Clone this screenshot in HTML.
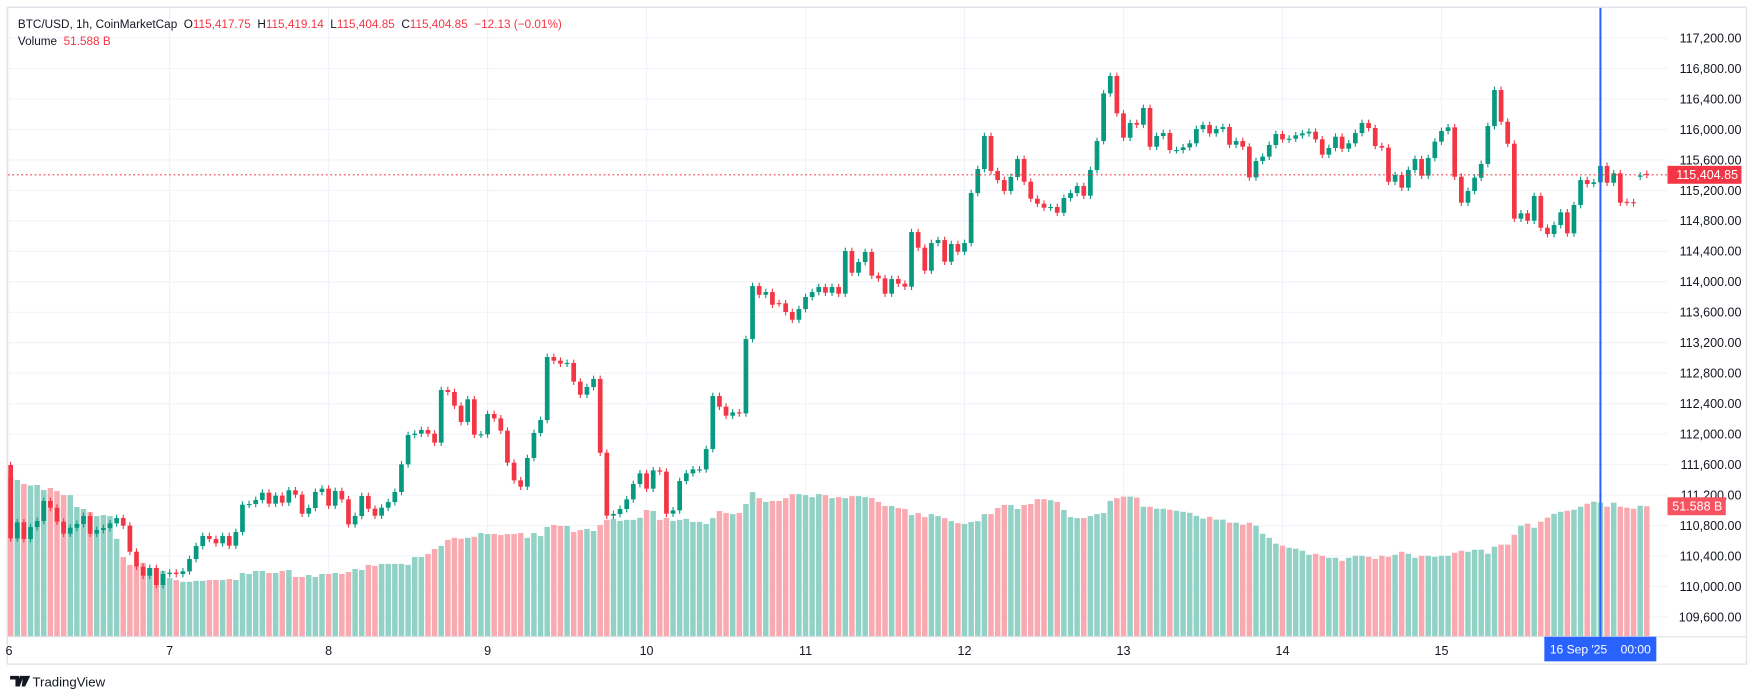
<!DOCTYPE html>
<html><head><meta charset="utf-8">
<style>
html,body{margin:0;padding:0;background:#fff;}
svg{display:block;font-family:"Liberation Sans",sans-serif;}
</style></head>
<body>
<svg id="chart" width="1756" height="700" viewBox="0 0 1568 625" preserveAspectRatio="none" xmlns="http://www.w3.org/2000/svg">
  <rect x="0" y="0" width="1568" height="625" fill="#ffffff"/>
  <rect x="6.5" y="6.5" width="1553" height="586.5" fill="none" stroke="#e0e3eb" stroke-width="1.2"/>
  <g id="grid"></g>
  <g id="volumes"></g>
  <g id="candles"></g>
  <line id="lastLine" x1="7" x2="1489" stroke="#f23645" stroke-width="1" stroke-dasharray="1.5,2.5"/>
  <line x1="7" x2="1559" y1="568.5" y2="568.5" stroke="#e0e3eb" stroke-width="1"/>
  <g id="yaxis"></g>
  <g id="xaxis"></g>
  <line id="crossV" y1="7" y2="568.5" stroke="#2962ff" stroke-width="1.8"/>
  <g id="priceTag"></g>
  <g id="volTag"></g>
  <g>
    <rect x="1379" y="568.5" width="100" height="22" fill="#2962ff"/>
    <text x="1429" y="583.5" font-size="10.8" fill="#ffffff" text-anchor="middle" xml:space="preserve">16 Sep '25    00:00</text>
  </g>
  <g font-size="10.5">
    <text x="16" y="25" fill="#131722" xml:space="preserve">BTC/USD, 1h, CoinMarketCap  O<tspan fill="#f23645">115,417.75</tspan>  H<tspan fill="#f23645">115,419.14</tspan>  L<tspan fill="#f23645">115,404.85</tspan>  C<tspan fill="#f23645">115,404.85</tspan>  <tspan fill="#f23645">−12.13 (−0.01%)</tspan></text>
    <text x="16" y="40" fill="#131722" xml:space="preserve">Volume  <tspan fill="#f23645">51.588 B</tspan></text>
  </g>
  <g>
    <path d="M9 603.5h8v9.5h-3.2v-6.3H9z M17.8 603.5h3.4l-3.6 9.5h-3.2z M20.6 603.5h6.4l-4.6 9.5h-3z" fill="#131722"/>
    <text x="29" y="613" font-size="11.8" fill="#131722">TradingView</text>
  </g>
</svg>
<script>
const closes = [
110631,110842,110623,110780,110859,111122,111034,110850,110693,110771,
110820,110925,110693,110741,110767,110828,110898,110798,110456,110259,
110141,110242,110019,110163,110181,110163,110198,110360,110531,110662,
110623,110566,110662,110535,110715,111073,111082,111135,111231,111087,
111192,111100,111262,111205,110955,111030,111240,111284,111060,111253,
111143,110815,110925,111187,111021,110929,111034,111108,111240,111603,
111988,112006,112054,112006,111888,112579,112553,112373,112159,112457,
111993,111997,112264,112207,112045,111625,111393,111310,111686,112015,
112185,113012,112964,112925,112934,112689,112518,112618,112724,111756,
110929,110951,111017,111143,111345,111485,111284,111524,111507,110955,
110999,111384,111485,111537,
111537,111804,112500,112360,112242,112285,112272,113248,113944,113830,
113865,113699,113717,113603,113502,113642,113800,113865,113931,113857,
113931,113844,114404,114119,114259,114391,114080,114045,113844,114036,
113975,113936,114653,114448,114146,114509,114548,114264,114496,114395,
114509,115165,115480,115914,115454,115336,115192,115376,115612,115314,
115091,115025,114973,114982,114907,115100,115165,115257,115130,115468,
115848,
116474,116702,116212,115892,116085,116063,116282,115774,115914,115953,
115730,115730,115765,115818,116006,116059,115949,116006,116032,115800,
115848,115774,115371,115586,115643,115796,115940,115870,115879,115923,
115949,115971,115870,115669,115757,115905,115748,115818,115953,116085,
116019,115783,115761,115314,115402,115236,115468,115612,115393,115625,
115840,115980,116028,115380,115039,115192,115367,115547,116045,116518,
116102,115813,114829,114899,114802,115126,114710,114627,114745,114912,
114636,115008,115336,115284,115306,115520,115301,115424,115039,115043,
115030,115395,115404.85
];
const openOverrides = {0:111594, 116:113720, 244:115050, 245:115045, 246:115380, 247:115417.75};
const volumes = [
63,62,60.4,59.8,60,58,58.8,57.6,56,56,
51.3,50.5,49.3,47.7,48.1,47.7,38.7,31.5,28.4,27.6,
29.2,27.2,27.2,26,23.2,22.4,21.7,21.7,22.1,22.1,
22.4,22.4,22.4,22.8,22.4,25.2,24.8,26,26,25.2,
25.2,26,26.4,23.6,23.6,24.4,23.6,24.8,24.8,25.2,
24.8,25.6,26.8,26.4,28.4,28,28.8,28.8,28.8,28.8,
28.4,31.5,31.5,32.7,34.7,35.9,38.3,39.1,38.7,39.1,
39.5,41,40.6,40.6,40.2,40.6,40.6,41,39.1,41,
39.8,43.4,44.2,43.8,43.8,41.4,42.2,42.6,41.8,44.2,
46.2,46.6,45.8,46.2,46.2,47,50.1,49.7,46.2,47,
45.8,46.2,46.6,45.4,
45.4,44.6,46.9,49.7,48.9,48.5,48.9,52.5,57.2,54.8,
53.3,53.7,53.7,54.8,56.4,56.4,56,55.2,56.4,56,
54.8,55.2,54.8,55.6,55.6,55.2,54.8,53.3,51.7,51.7,
50.9,50.5,48.1,48.9,47.3,48.5,47.7,46.9,45.7,44.9,
44.6,45.4,45.7,48.5,48.5,50.9,52.1,52.1,50.5,52.1,
52.5,54.4,54.4,54,53.3,50.1,47.3,46.9,46.9,47.7,
48.5,48.9,53.7,54.8,
55.4,55.4,55,51.4,51.4,50.6,50.6,50.2,49.8,49.4,
49,47.8,46.7,47.4,46.3,46.3,45.1,45.1,44.3,45.1,
43.9,40.7,39.1,36.8,36,35.2,34.8,34,32.4,32.8,
32,31.2,31.2,30,31.2,32,32,31.6,30.8,32,
31.6,32.4,33.6,32.8,31.2,32,32,31.6,32,32,
33.2,34,33.6,34.4,34.4,32.8,35.6,36.4,36.4,40.3,
43.9,44.7,43.1,45.5,47.1,48.6,49.4,49.8,50.2,51.4,
52.6,53.4,53,51.4,53,51.4,51,50.6,51.8,51.588
];
const priceTicks = [117200,116800,116400,116000,115600,115200,114800,114400,114000,113600,113200,112800,112400,112000,111600,111200,110800,110400,110000,109600];
const dayLabels = ["6","7","8","9","10","11","12","13","14","15"];
const lastPrice = 115404.85;
const lastVolumeLabel = "51.588 B";
const crossIndex = 240;

const NS = "http://www.w3.org/2000/svg";
const X0 = 9.5, STEP = 5.915;
function xScale(i){ return X0 + i*STEP; }
function yScale(p){ return 34 + (117200 - p)*0.068; }
const VBASE = 568.5;
function vScale(v){ return v*2.258; }
function mk(tag, attrs, parent){
  const e = document.createElementNS(NS, tag);
  for (const k in attrs) e.setAttribute(k, attrs[k]);
  parent.appendChild(e);
  return e;
}
const grid = document.getElementById('grid');
const yaxis = document.getElementById('yaxis');
const xaxis = document.getElementById('xaxis');
priceTicks.forEach(p => {
  const y = yScale(p);
  const gl = mk('line', {x1:7, x2:1489, y1:y, y2:y, stroke:'#f0f3fa', 'stroke-width':1}, grid);
  
  
  const t = mk('text', {x:1555, y:y+3.9, 'font-size':11.2, fill:'#131722', 'text-anchor':'end'}, yaxis);
  t.textContent = p.toLocaleString('en-US', {minimumFractionDigits:2, maximumFractionDigits:2});
  
  
});
dayLabels.forEach((d, k) => {
  const x = k === 0 ? 8 : xScale(k*24);
  const gl = mk('line', {x1:x, x2:x, y1:7, y2:568.5, stroke:'#f0f3fa', 'stroke-width':1}, grid);
  
  
  const t = mk('text', {x:x, y:585, 'font-size':11.2, fill:'#131722', 'text-anchor':'middle'}, xaxis);
  t.textContent = d;
  
  
});
const candles = document.getElementById('candles');
const vols = document.getElementById('volumes');
closes.forEach((c, i) => {
  const o = (i in openOverrides) ? openOverrides[i] : closes[i-1];
  const up = c >= o;
  const x = xScale(i);
  const vh = vScale(volumes[i]);
  const vb = mk('rect', {x:x-2.45, y:VBASE-vh, width:4.9, height:vh, fill: up ? '#92d2c6' : '#f9a9b0'}, vols);
  
  
  const y1 = yScale(Math.max(o,c)), y2 = yScale(Math.min(o,c));
  const body = mk('rect', {x:x-2.1, y:y1, width:4.2, height:Math.max(1, y2-y1), fill: up ? '#089981' : '#f23645'}, candles);
  
  
  const wk = mk('line', {x1:x, x2:x, y1:y1-3, y2:y2+3, stroke: up ? '#089981' : '#f23645', 'stroke-width':1}, candles);
  
  
});
const ly = yScale(lastPrice);
const ll = document.getElementById('lastLine');
ll.setAttribute('y1', ly); ll.setAttribute('y2', ly);
document.getElementById('crossV').setAttribute('x1', xScale(crossIndex));
document.getElementById('crossV').setAttribute('x2', xScale(crossIndex));
const pt = document.getElementById('priceTag');
mk('rect', {x:1489, y:ly-8, width:66, height:16, fill:'#f23645'}, pt);
const ptt = mk('text', {x:1552, y:ly+3.9, 'font-size':11.2, fill:'#ffffff', 'text-anchor':'end'}, pt);
ptt.textContent = lastPrice.toLocaleString('en-US', {minimumFractionDigits:2});
const vy = VBASE - vScale(volumes[volumes.length-1]);
const vt = document.getElementById('volTag');
mk('rect', {x:1489, y:vy-8, width:52, height:16, fill:'#f7525f'}, vt);
const vtt = mk('text', {x:1538, y:vy+3.9, 'font-size':11.2, fill:'#ffffff', 'text-anchor':'end'}, vt);
vtt.textContent = lastVolumeLabel;
</script>
</body></html>
